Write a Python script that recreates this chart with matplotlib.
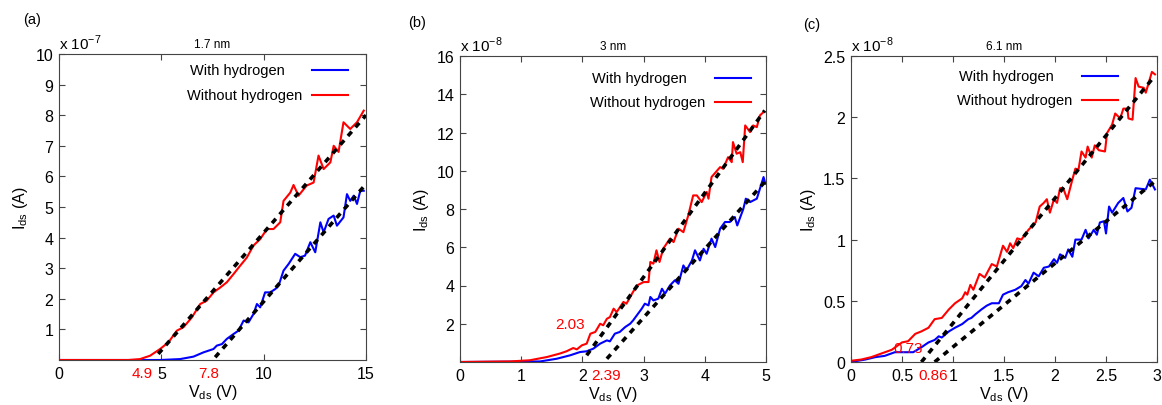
import numpy as np
import matplotlib as mpl
mpl.use("Agg")
import matplotlib.pyplot as plt

################################################################################
# data (currents in units of the offset shown on each axis)

# (a) 1.7 nm, x 1e-7 A
a_blue_x = [0, 4.94, 5.92, 6.57, 7.06, 7.55, 7.71, 7.96, 8.2, 8.53, 8.77, 9.02, 9.26, 9.5,
            9.67, 9.83, 10.07, 10.32, 10.57, 10.73, 10.97, 11.22, 11.54, 11.79, 12.02,
            12.28, 12.52, 12.77, 12.93, 13.17, 13.42, 13.58, 13.9, 14.07, 14.23, 14.4,
            14.56, 14.72, 14.89]
a_blue_y = [0, 0, 0.03, 0.11, 0.25, 0.36, 0.47, 0.52, 0.69, 0.85, 0.96, 1.29, 1.23, 1.5,
            1.83, 1.72, 2.21, 2.21, 2.32, 2.43, 2.92, 3.14, 3.47, 3.36, 3.41,
            3.85, 3.52, 4.5, 4.17, 4.61, 4.72, 4.39, 4.66, 5.42, 5.2, 5.37,
            5.1, 5.53, 5.53]
a_red_x = [0, 3.39, 3.96, 4.45, 4.94, 5.35, 5.76, 6.08, 6.49, 6.9, 7.22, 7.55, 7.88, 8.2,
           8.53, 8.85, 9.18, 9.5, 9.83, 10.16, 10.48, 10.81, 10.97, 11.3, 11.46, 11.7,
           12.1, 12.44, 12.68, 12.93, 13.26, 13.42, 13.66, 13.9, 14.23, 14.56, 14.89]
a_red_y = [0, 0, 0.03, 0.14, 0.36, 0.58, 0.96, 1.07, 1.39, 1.83, 1.94, 2.21, 2.37, 2.54,
           2.81, 3.08, 3.35, 3.74, 3.95, 4.28, 4.28, 4.5, 5.2, 5.47, 5.72, 5.37,
           5.7, 5.8, 6.68, 6.24, 6.46, 7.0, 6.8, 7.77, 7.55, 7.77, 8.15]
a_fit_red = ([4.85, 15.0], [0.2, 8.0])
a_fit_blue = ([7.63, 15.0], [0.09, 5.75])

# (b) 3 nm, x 1e-8 A
b_blue_x = [0, 1.31, 1.58, 1.8, 1.96, 2.07, 2.18, 2.29, 2.4, 2.45, 2.53, 2.61, 2.7, 2.78,
            2.83, 2.91, 2.97, 3.02, 3.08, 3.11, 3.16, 3.24, 3.3, 3.35, 3.43, 3.51, 3.57,
            3.65, 3.7, 3.79, 3.84, 3.92, 3.98, 4.03, 4.11, 4.17, 4.25, 4.33, 4.41, 4.49,
            4.53, 4.63, 4.67, 4.74, 4.85, 4.96, 4.99]
b_blue_y = [0, 0.03, 0.17, 0.35, 0.52, 0.56, 0.7, 0.96, 1.13, 1.08, 1.48, 1.57, 1.83, 2.0,
            2.18, 2.53, 2.79, 3.05, 2.96, 3.4, 3.22, 3.31, 3.83, 3.57, 4.0, 4.27, 4.09,
            5.05, 4.79, 5.31, 5.84, 5.31, 5.92, 5.66, 6.45, 6.01, 6.97, 7.32, 7.32, 7.58,
            7.14, 8.01, 8.54, 8.36, 8.54, 9.67, 9.32]
b_red_x = [0, 0.82, 1.14, 1.42, 1.63, 1.74, 1.85, 1.91, 1.99, 2.07, 2.13, 2.21, 2.29, 2.34,
           2.4, 2.45, 2.51, 2.56, 2.67, 2.72, 2.81, 2.89, 3.0, 3.08, 3.11, 3.16, 3.21,
           3.26, 3.32, 3.43, 3.49, 3.57, 3.65, 3.73, 3.81, 3.87, 3.95, 4.03, 4.06, 4.11,
           4.25, 4.3, 4.38, 4.44, 4.46, 4.52, 4.58, 4.62, 4.66, 4.74, 4.79, 4.85, 4.9, 4.96]
b_red_y = [0, 0.03, 0.09, 0.26, 0.44, 0.56, 0.73, 0.66, 0.87, 0.96, 1.48, 1.57, 2.0, 1.92,
           2.26, 2.35, 2.79, 2.61, 3.14, 3.05, 3.57, 4.0, 4.18, 4.18, 5.23, 5.14, 5.84,
           5.23, 5.92, 6.45, 6.27, 6.97, 6.79, 7.67, 8.71, 8.71, 8.36, 8.89, 8.54, 9.67,
           10.19, 10.1, 10.71, 10.45, 11.5, 10.89, 10.97, 10.45, 12.37, 12.02, 12.37, 12.28,
           12.89, 13.07]
b_fit_red = ([2.07, 4.98], [0.35, 13.15])
b_fit_blue = ([2.4, 5.0], [0.17, 9.49])

# (c) 6.1 nm, x 1e-8 A
c_blue_x = [0, 0.14, 0.24, 0.33, 0.43, 0.53, 0.61, 0.69, 0.76, 0.82, 0.86, 0.89, 0.96, 1.02,
            1.09, 1.15, 1.18, 1.22, 1.28, 1.33, 1.38, 1.45, 1.49, 1.54, 1.61, 1.67, 1.71,
            1.74, 1.79, 1.84, 1.89, 1.94, 1.99, 2.02, 2.05, 2.1, 2.13, 2.17, 2.2, 2.26,
            2.3, 2.33, 2.38, 2.41, 2.44, 2.48, 2.5, 2.53, 2.56, 2.62, 2.67, 2.71, 2.75,
            2.79, 2.89, 2.93, 2.98]
c_blue_y = [0, 0.02, 0.04, 0.05, 0.08, 0.08, 0.08, 0.12, 0.16, 0.18, 0.21, 0.2, 0.25, 0.28,
            0.31, 0.35, 0.36, 0.39, 0.43, 0.46, 0.48, 0.48, 0.55, 0.57, 0.59, 0.62, 0.67,
            0.64, 0.73, 0.7, 0.77, 0.78, 0.84, 0.81, 0.88, 0.85, 0.92, 0.86, 1.0, 1.0,
            1.08, 1.01, 1.08, 1.04, 1.14, 1.15, 1.05, 1.27, 1.22, 1.3, 1.34, 1.23, 1.26,
            1.42, 1.41, 1.49, 1.41]
c_red_x = [0, 0.1, 0.2, 0.3, 0.4, 0.5, 0.56, 0.63, 0.69, 0.76, 0.82, 0.89, 0.96, 1.02,
           1.09, 1.12, 1.14, 1.17, 1.2, 1.26, 1.31, 1.38, 1.43, 1.49, 1.53, 1.56, 1.59,
           1.63, 1.67, 1.74, 1.81, 1.85, 1.89, 1.92, 1.95, 1.99, 2.02, 2.05, 2.08, 2.12,
           2.17, 2.2, 2.23, 2.26, 2.3, 2.32, 2.36, 2.39, 2.43, 2.49, 2.51, 2.56, 2.59,
           2.64, 2.67, 2.71, 2.72, 2.76, 2.79, 2.82, 2.87, 2.89, 2.95, 2.98]
c_red_y = [0.01, 0.02, 0.04, 0.07, 0.1, 0.16, 0.17, 0.23, 0.25, 0.28, 0.35, 0.36, 0.43, 0.48,
           0.52, 0.57, 0.55, 0.63, 0.59, 0.72, 0.69, 0.8, 0.78, 0.95, 0.9, 0.97, 0.93,
           1.01, 1.0, 1.08, 1.14, 1.27, 1.3, 1.33, 1.22, 1.33, 1.3, 1.42, 1.42, 1.33,
           1.49, 1.58, 1.57, 1.72, 1.67, 1.76, 1.67, 1.77, 1.73, 1.72, 1.87, 1.94, 2.03,
           1.99, 2.07, 2.07, 1.99, 1.98, 2.32, 2.25, 2.24, 2.2, 2.37, 2.35]
c_fit_red = ([0.69, 2.98], [0.0, 2.34])
c_fit_blue = ([0.82, 3.0], [0.0, 1.49])

series_labels = ['With hydrogen', 'Without hydrogen']

panels = [
    dict(tag='(a)', title='1.7 nm', exp='-7', xlim=(0, 15), ylim=(0, 10),
         xticks=[0, 5, 10, 15], xtl=['0', '5', '10', '15'],
         yticks=list(range(1, 11)), ytl=[str(i) for i in range(1, 11)],
         blue=(a_blue_x, a_blue_y), red=(a_red_x, a_red_y),
         fits=[a_fit_red, a_fit_blue],
         below=[(4.05, '4.9'), (7.33, '7.8')], inside=[],
         pos=[59, 361, 307, 306], tagpos=(32, 20),
         leg=dict(tx=[0.427, 0.417], lx=(0.824, 0.941), ly=[0.948, 0.866])),
    dict(tag='(b)', title='3 nm', exp='-8', xlim=(0, 5), ylim=(0, 16),
         xticks=[0, 1, 2, 3, 4, 5], xtl=['0', '1', '2', '3', '4', '5'],
         yticks=list(range(2, 17, 2)), ytl=[str(i) for i in range(2, 17, 2)],
         blue=(b_blue_x, b_blue_y), red=(b_red_x, b_red_y),
         fits=[b_fit_red, b_fit_blue],
         below=[(2.39, '2.39')], inside=[(1.8, 1.6, '2.03')],
         pos=[460, 363, 306, 306], tagpos=(417, 23),
         leg=dict(tx=[0.431, 0.425], lx=(0.833, 0.951), ly=[0.928, 0.850])),
    dict(tag='(c)', title='6.1 nm', exp='-8', xlim=(0, 3), ylim=(0, 2.5),
         xticks=[0, 0.5, 1, 1.5, 2, 2.5, 3], xtl=['0', '0.5', '1', '1.5', '2', '2.5', '3'],
         yticks=[0, 0.5, 1, 1.5, 2, 2.5], ytl=['0', '0.5', '1', '1.5', '2', '2.5'],
         blue=(c_blue_x, c_blue_y), red=(c_red_x, c_red_y),
         fits=[c_fit_red, c_fit_blue],
         below=[(0.81, '0.86')], inside=[(0.56, 0.055, '0.73')],
         pos=[851, 363, 306, 306], tagpos=(812, 25),
         leg=dict(tx=[0.353, 0.346], lx=(0.755, 0.873), ly=[0.935, 0.856])),
]

################################################################################

W, H = 1162, 406
mpl.rcParams.update({
    'font.family': ['Liberation Sans', 'DejaVu Sans'],
    'font.size': 11.5,
    'axes.linewidth': 0.8,
    'axes.edgecolor': '#444444',
})

fig = plt.figure(figsize=(W / 100, H / 100), dpi=100)

for p in panels:
    l, b, w, h = p['pos']
    ax = fig.add_axes([l / W, (H - b) / H, w / W, h / H])

    colors = ['#0000ff', '#ff0000']
    ax.plot(*p['blue'], color=colors[0], lw=1.5)
    ax.plot(*p['red'], color=colors[1], lw=1.5)
    for fx, fy in p['fits']:
        ax.plot(fx, fy, color='black', lw=2.6, dashes=(1.6, 1.6))

    ax.set_xlim(*p['xlim'])
    ax.set_ylim(*p['ylim'])
    ax.set_xticks(p['xticks'])
    ax.set_xticklabels(p['xtl'])
    ax.set_yticks(p['yticks'])
    ax.set_yticklabels(p['ytl'])
    ax.tick_params(direction='in', top=True, right=True, length=4, width=0.8,
                   labelsize=11.5, pad=4, color='#444444')

    ax.set_xlabel('V$_\\mathregular{ds}$ (V)', fontsize=11.5, labelpad=1)
    ax.set_ylabel('I$_\\mathregular{ds}$ (A)', fontsize=11.5, labelpad=4)
    ax.set_title(p['title'], fontsize=8.5, pad=5)
    ax.text(0.0, 1.005, 'x 10$^\\mathregular{' + p['exp'] + '}$', transform=ax.transAxes,
            ha='left', va='bottom', fontsize=11)

    for x, s in p['below']:
        ax.annotate(s, xy=(x, 0), xycoords=('data', 'axes fraction'),
                    xytext=(0, -4), textcoords='offset points',
                    ha='center', va='top', color='#ff0000', fontsize=11)
    for x, y, s in p['inside']:
        ax.text(x, y, s, color='#ff0000', fontsize=11, ha='center', va='bottom')

    # MATLAB style legend: label text first, sample line to its right
    lg = p['leg']
    for k in range(2):
        ax.text(lg['tx'][k], lg['ly'][k], series_labels[k], transform=ax.transAxes,
                ha='left', va='center', fontsize=10.5)
        ax.plot(lg['lx'], [lg['ly'][k]] * 2, color=colors[k], lw=1.5,
                transform=ax.transAxes)

    fig.text(p['tagpos'][0] / W, 1 - p['tagpos'][1] / H, p['tag'],
             ha='center', va='center', fontsize=10.5)

fig.savefig('out.png', dpi=100)
